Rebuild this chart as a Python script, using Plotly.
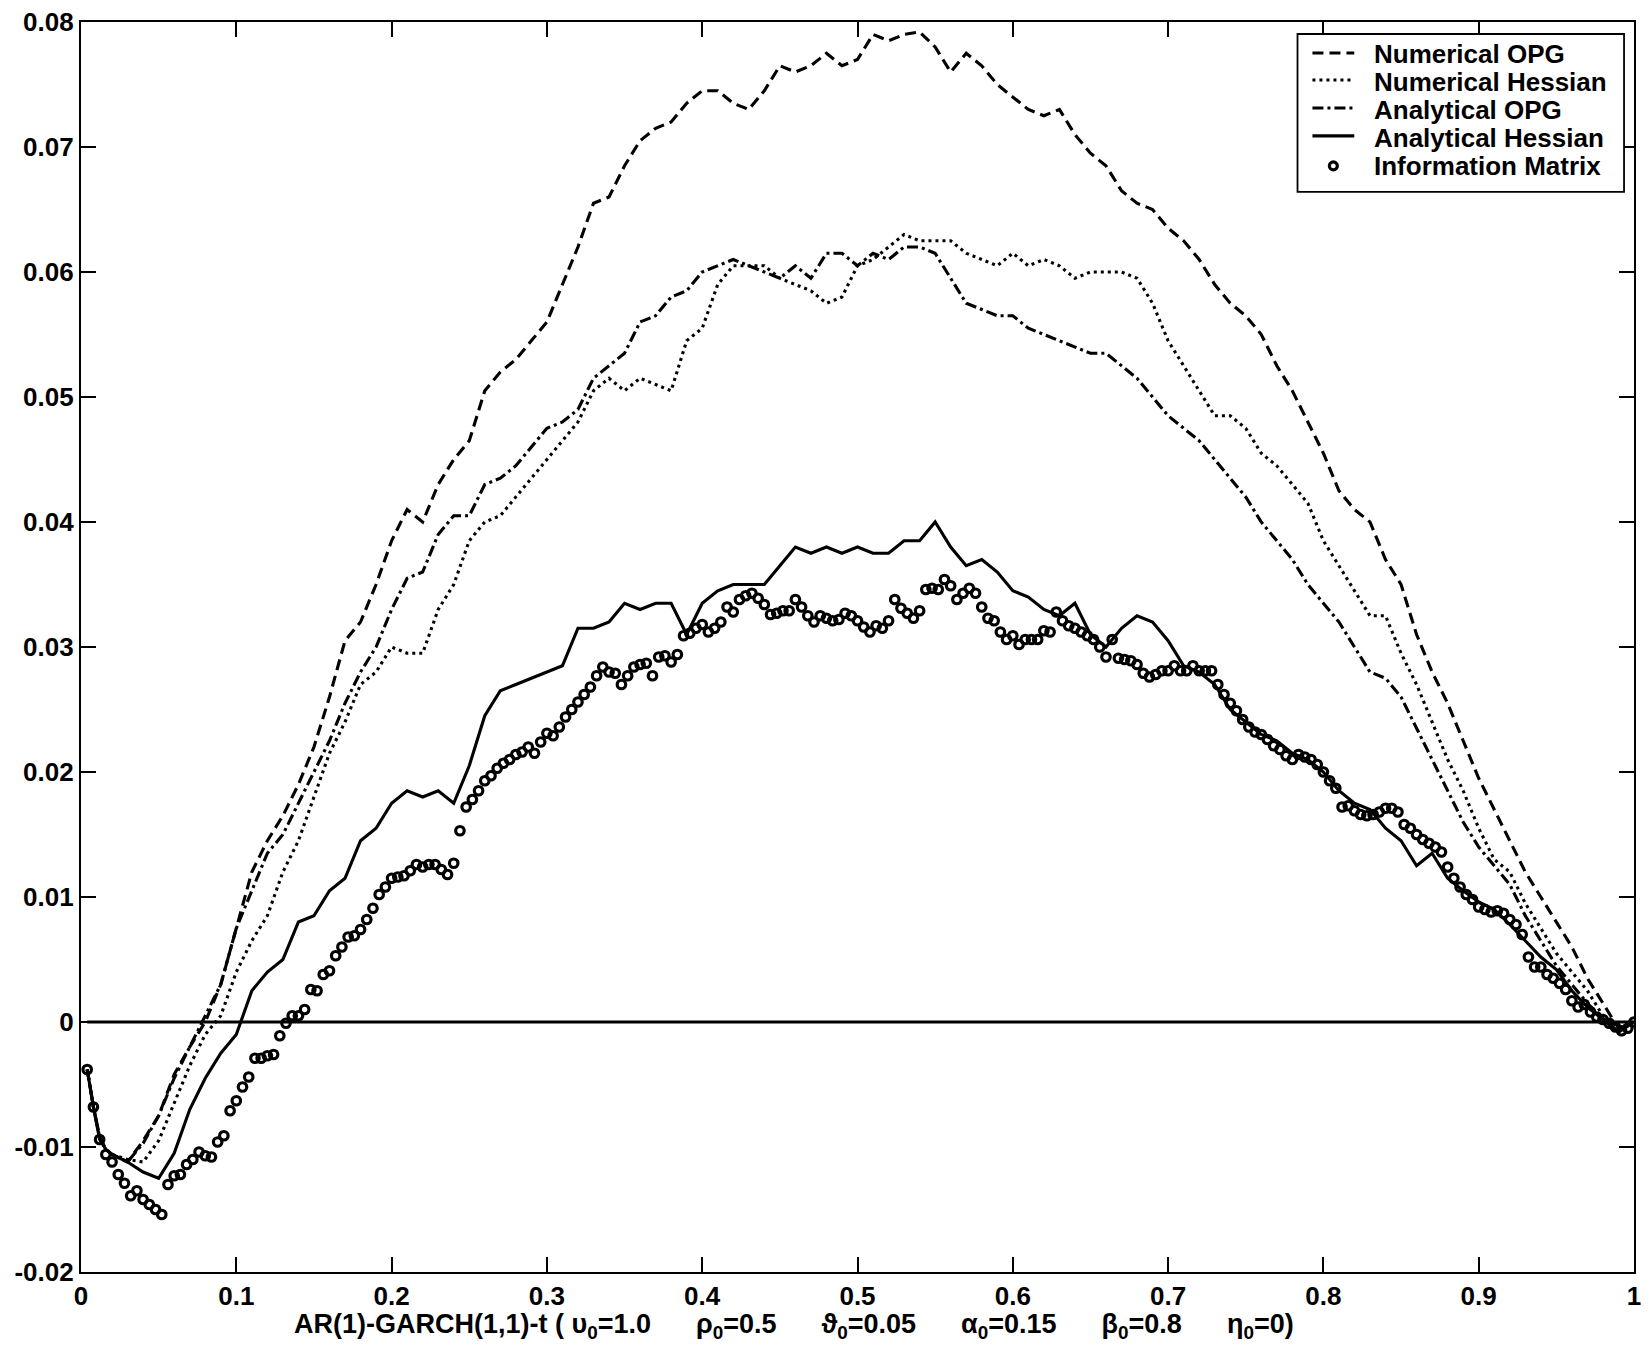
import plotly.graph_objects as go

# ---------------- data ----------------
X_LINE = [0.004, 0.008, 0.012, 0.016, 0.02] + [round(0.01 * i, 2) for i in range(3, 101)]

NUM_OPG = [-0.0038, -0.0068, -0.0092, -0.0102, -0.0106,
           -0.0112, -0.0095, -0.0075, -0.0042, -0.0020, 0.0000, 0.0030, 0.0075, 0.0120, 0.0145,
           0.0165, 0.0190, 0.0220, 0.0260, 0.0305, 0.0320, 0.0350, 0.0385, 0.0410, 0.0400,
           0.0430, 0.0450, 0.0465, 0.0505, 0.0520, 0.0530, 0.0545, 0.0560, 0.0590, 0.0620,
           0.0655, 0.0660, 0.0685, 0.0705, 0.0715, 0.0720, 0.0735, 0.0745, 0.0745, 0.0735,
           0.0730, 0.0745, 0.0765, 0.0760, 0.0765, 0.0775, 0.0765, 0.0770, 0.0790, 0.0785,
           0.0790, 0.0792, 0.0780, 0.0760, 0.0775, 0.0765, 0.0750, 0.0740, 0.0730, 0.0725,
           0.0730, 0.0710, 0.0695, 0.0685, 0.0665, 0.0655, 0.0650, 0.0635, 0.0625, 0.0610,
           0.0590, 0.0575, 0.0565, 0.0550, 0.0525, 0.0505, 0.0480, 0.0455, 0.0425, 0.0410,
           0.0400, 0.0370, 0.0350, 0.0310, 0.0280, 0.0255, 0.0225, 0.0195, 0.0170, 0.0145,
           0.0120, 0.0100, 0.0080, 0.0060, 0.0035, 0.0015, -0.0005, 0.0000]

NUM_HESS = [-0.0038, -0.0068, -0.0092, -0.0102, -0.0106,
            -0.0110, -0.0112, -0.0095, -0.0065, -0.0035, -0.0010, 0.0005, 0.0040, 0.0065, 0.0085,
            0.0120, 0.0145, 0.0180, 0.0215, 0.0240, 0.0270, 0.0280, 0.0300, 0.0295, 0.0295,
            0.0330, 0.0350, 0.0385, 0.0400, 0.0405, 0.0420, 0.0435, 0.0450, 0.0465, 0.0480,
            0.0505, 0.0515, 0.0505, 0.0515, 0.0510, 0.0505, 0.0545, 0.0555, 0.0590, 0.0605,
            0.0605, 0.0605, 0.0595, 0.0590, 0.0585, 0.0575, 0.0580, 0.0605, 0.0610, 0.0620,
            0.0630, 0.0625, 0.0625, 0.0625, 0.0615, 0.0610, 0.0605, 0.0615, 0.0605, 0.0610,
            0.0605, 0.0595, 0.0600, 0.0600, 0.0600, 0.0595, 0.0575, 0.0545, 0.0525, 0.0505,
            0.0485, 0.0485, 0.0475, 0.0455, 0.0445, 0.0430, 0.0415, 0.0385, 0.0365, 0.0345,
            0.0325, 0.0325, 0.0295, 0.0270, 0.0240, 0.0210, 0.0185, 0.0155, 0.0130, 0.0120,
            0.0095, 0.0075, 0.0055, 0.0040, 0.0025, 0.0005, -0.0005, 0.0000]

ANA_OPG = [-0.0038, -0.0068, -0.0092, -0.0102, -0.0106,
           -0.0112, -0.0097, -0.0075, -0.0045, -0.0020, 0.0005, 0.0030, 0.0075, 0.0105, 0.0135,
           0.0150, 0.0175, 0.0200, 0.0225, 0.0255, 0.0280, 0.0300, 0.0330, 0.0355, 0.0360,
           0.0390, 0.0405, 0.0405, 0.0430, 0.0435, 0.0445, 0.0460, 0.0475, 0.0480, 0.0490,
           0.0515, 0.0525, 0.0535, 0.0560, 0.0565, 0.0580, 0.0585, 0.0600, 0.0605, 0.0610,
           0.0605, 0.0600, 0.0595, 0.0605, 0.0595, 0.0615, 0.0615, 0.0605, 0.0615, 0.0610,
           0.0620, 0.0620, 0.0615, 0.0595, 0.0575, 0.0570, 0.0565, 0.0565, 0.0555, 0.0550,
           0.0545, 0.0540, 0.0535, 0.0535, 0.0525, 0.0515, 0.0500, 0.0485, 0.0475, 0.0465,
           0.0450, 0.0435, 0.0420, 0.0400, 0.0385, 0.0370, 0.0350, 0.0335, 0.0320, 0.0300,
           0.0280, 0.0275, 0.0260, 0.0235, 0.0210, 0.0185, 0.0160, 0.0140, 0.0125, 0.0110,
           0.0085, 0.0065, 0.0045, 0.0030, 0.0015, 0.0003, -0.0008, 0.0000]

ANA_HESS = [-0.0038, -0.0068, -0.0094, -0.0102, -0.0106,
            -0.0112, -0.0120, -0.0125, -0.0105, -0.0070, -0.0045, -0.0025, -0.0010, 0.0025, 0.0040,
            0.0050, 0.0080, 0.0085, 0.0105, 0.0115, 0.0145, 0.0155, 0.0175, 0.0185, 0.0180,
            0.0185, 0.0175, 0.0205, 0.0245, 0.0265, 0.0270, 0.0275, 0.0280, 0.0285, 0.0315,
            0.0315, 0.0320, 0.0335, 0.0330, 0.0335, 0.0335, 0.0310, 0.0335, 0.0345, 0.0350,
            0.0350, 0.0350, 0.0365, 0.0380, 0.0375, 0.0380, 0.0375, 0.0380, 0.0375, 0.0375,
            0.0385, 0.0385, 0.0400, 0.0380, 0.0365, 0.0370, 0.0360, 0.0345, 0.0340, 0.0330,
            0.0325, 0.0335, 0.0310, 0.0300, 0.0315, 0.0325, 0.0320, 0.0305, 0.0285, 0.0280,
            0.0270, 0.0250, 0.0240, 0.0230, 0.0225, 0.0215, 0.0210, 0.0200, 0.0185, 0.0175,
            0.0170, 0.0155, 0.0145, 0.0125, 0.0135, 0.0115, 0.0105, 0.0096, 0.0090, 0.0078,
            0.0065, 0.0052, 0.0042, 0.0025, 0.0012, 0.0002, -0.0008, 0.0000]

X_INFO = [round(0.004 * k, 3) for k in range(1, 251)]
INFO_MATRIX = [
    -0.0038, -0.0068, -0.0094, -0.0106, -0.0112, -0.0122, -0.0129, -0.0139, -0.0135, -0.0142,
    -0.0146, -0.0150, -0.0154, -0.0130, -0.0123, -0.0122, -0.0114, -0.0110, -0.0104, -0.0107,
    -0.0108, -0.0096, -0.0091, -0.0071, -0.0063, -0.0052, -0.0044, -0.0029, -0.0029, -0.0027,
    -0.0026, -0.0011, -0.0001, 0.0005, 0.0005, 0.0010, 0.0026, 0.0025, 0.0038, 0.0041,
    0.0053, 0.0060, 0.0068, 0.0069, 0.0074, 0.0082, 0.0091, 0.0102, 0.0108, 0.0115,
    0.0116, 0.0117, 0.0121, 0.0126, 0.0124, 0.0126, 0.0126, 0.0122, 0.0118, 0.0127,
    0.0153, 0.0172, 0.0178, 0.0185, 0.0193, 0.0197, 0.0203, 0.0207, 0.0210, 0.0214,
    0.0216, 0.0220, 0.0215, 0.0224, 0.0231, 0.0229, 0.0236, 0.0244, 0.0250, 0.0256,
    0.0262, 0.0268, 0.0277, 0.0284, 0.0280, 0.0279, 0.0270, 0.0277, 0.0284, 0.0286,
    0.0287, 0.0277, 0.0292, 0.0293, 0.0288, 0.0294, 0.0309, 0.0311, 0.0315, 0.0318,
    0.0312, 0.0315, 0.0320, 0.0332, 0.0328, 0.0338, 0.0341, 0.0343, 0.0339, 0.0334,
    0.0326, 0.0327, 0.0329, 0.0329, 0.0338, 0.0332, 0.0325, 0.0320, 0.0325, 0.0323,
    0.0321, 0.0322, 0.0327, 0.0325, 0.0321, 0.0316, 0.0312, 0.0317, 0.0315, 0.0321,
    0.0338, 0.0331, 0.0327, 0.0323, 0.0329, 0.0346, 0.0347, 0.0346, 0.0354, 0.0349,
    0.0338, 0.0343, 0.0347, 0.0343, 0.0332, 0.0323, 0.0321, 0.0312, 0.0306, 0.0309,
    0.0302, 0.0306, 0.0306, 0.0306, 0.0313, 0.0312, 0.0328, 0.0321, 0.0317, 0.0315,
    0.0312, 0.0309, 0.0306, 0.0300, 0.0292, 0.0306, 0.0291, 0.0290, 0.0289, 0.0286,
    0.0279, 0.0276, 0.0278, 0.0281, 0.0281, 0.0285, 0.0281, 0.0281, 0.0285, 0.0281,
    0.0281, 0.0281, 0.0270, 0.0262, 0.0255, 0.0249, 0.0242, 0.0236, 0.0232, 0.0230,
    0.0226, 0.0221, 0.0218, 0.0213, 0.0210, 0.0214, 0.0212, 0.0210, 0.0206, 0.0200,
    0.0193, 0.0187, 0.0172, 0.0173, 0.0169, 0.0166, 0.0165, 0.0166, 0.0168, 0.0171,
    0.0171, 0.0168, 0.0158, 0.0155, 0.0150, 0.0146, 0.0143, 0.0140, 0.0136, 0.0124,
    0.0115, 0.0108, 0.0102, 0.0098, 0.0092, 0.0090, 0.0088, 0.0089, 0.0087, 0.0082,
    0.0078, 0.0070, 0.0052, 0.0044, 0.0044, 0.0038, 0.0035, 0.0031, 0.0026, 0.0017,
    0.0012, 0.0014, 0.0008, 0.0004, 0.0002, -0.0001, -0.0004, -0.0007, -0.0005, 0.0000]

ZERO_X = [0.004, 1.0]
ZERO_Y = [0.0, 0.0]

X_TICKS = [0, 0.1, 0.2, 0.3, 0.4, 0.5, 0.6, 0.7, 0.8, 0.9, 1.0]
X_TICK_LABELS = ["0", "0.1", "0.2", "0.3", "0.4", "0.5", "0.6", "0.7", "0.8", "0.9", "1"]
Y_TICKS = [-0.02, -0.01, 0, 0.01, 0.02, 0.03, 0.04, 0.05, 0.06, 0.07, 0.08]
Y_TICK_LABELS = ["-0.02", "-0.01", "0", "0.01", "0.02", "0.03", "0.04", "0.05", "0.06", "0.07", "0.08"]

SERIES_NAMES = ["Numerical OPG", "Numerical Hessian", "Analytical OPG",
                "Analytical Hessian", "Information Matrix"]
SP = "\u00a0" * 5 + " "
X_LABEL = ("AR(1)-GARCH(1,1)-t ( \u03c5<sub>0</sub>=1.0" + SP + "\u03c1<sub>0</sub>=0.5" + SP +
           "\u03d1<sub>0</sub>=0.05" + SP + "\u03b1<sub>0</sub>=0.15" + SP +
           "\u03b2<sub>0</sub>=0.8" + SP + "\u03b7<sub>0</sub>=0)")

# ---------------- figure ----------------
FONT = "Liberation Sans, Arial, sans-serif"
LW = 3.1
DASHES = ["11px,6px", "3px,4px", "11px,4px,3px,4px", "solid"]
LINES = [NUM_OPG, NUM_HESS, ANA_OPG, ANA_HESS]

fig = go.Figure()
fig.add_trace(go.Scatter(x=ZERO_X, y=ZERO_Y, mode="lines", showlegend=False,
                         line=dict(color="black", width=3), hoverinfo="skip"))
for name, ys, dash in zip(SERIES_NAMES[:4], LINES, DASHES):
    fig.add_trace(go.Scatter(x=X_LINE, y=ys, mode="lines", name=name, showlegend=False,
                             line=dict(color="black", width=LW, dash=dash)))
fig.add_trace(go.Scatter(x=X_INFO, y=INFO_MATRIX, mode="markers", name=SERIES_NAMES[4],
                         showlegend=False,
                         marker=dict(symbol="circle-open", size=8.5, color="black",
                                     line=dict(width=3.2, color="black"))))

# ---- legend box drawn in paper coordinates (MATLAB-style compact legend) ----
L, R, T, B = 81, 1641, 21, 1272
W, H = R - L, B - T
px = lambda x: (x - L) / W
py = lambda y: (B - y) / H

shapes = [dict(type="rect", xref="paper", yref="paper", x0=px(1303), x1=px(1631),
               y0=py(191), y1=py(33), line=dict(color="black", width=1.8),
               fillcolor="white", layer="above")]
row_line_y = [52, 79, 107, 135, 165]
row_text_y = [53, 81, 109, 137, 165]
for i in range(4):
    shapes.append(dict(type="line", xref="paper", yref="paper", x0=px(1318), x1=px(1360),
                       y0=py(row_line_y[i]), y1=py(row_line_y[i]), layer="above",
                       line=dict(color="black", width=LW, dash=DASHES[i])))
cx, cy, r = 1339, row_line_y[4], 4
shapes.append(dict(type="circle", xref="paper", yref="paper", x0=px(cx - r), x1=px(cx + r),
                   y0=py(cy + r), y1=py(cy - r), layer="above",
                   line=dict(color="black", width=3.2)))
annotations = []
for i, name in enumerate(SERIES_NAMES):
    annotations.append(dict(text=name, xref="paper", yref="paper", x=px(1378), y=py(row_text_y[i]),
                            xanchor="left", yanchor="middle", showarrow=False,
                            font=dict(family=FONT, size=26, color="black", weight="bold")))
annotations.append(dict(text=X_LABEL, xref="paper", yref="paper", x=px(797), y=py(1326),
                        xanchor="center", yanchor="middle", showarrow=False,
                        font=dict(family=FONT, size=27, color="black", weight="bold")))

axis_common = dict(showgrid=False, zeroline=False, showline=True, linecolor="black",
                   linewidth=2.2, mirror="ticks", ticks="inside", ticklen=15, tickwidth=1.6,
                   tickcolor="black",
                   tickfont=dict(family=FONT, size=26, color="black", weight="bold"))

fig.update_layout(
    width=1648, height=1353,
    margin=dict(l=L, r=1648 - R, t=T, b=1353 - B, pad=0),
    paper_bgcolor="white", plot_bgcolor="white",
    xaxis=dict(range=[0, 1], tickvals=X_TICKS, ticktext=X_TICK_LABELS, **axis_common),
    yaxis=dict(range=[-0.02, 0.08], tickvals=Y_TICKS, ticktext=Y_TICK_LABELS, **axis_common),
    shapes=shapes, annotations=annotations, showlegend=False,
)

fig.write_html("out.html")
